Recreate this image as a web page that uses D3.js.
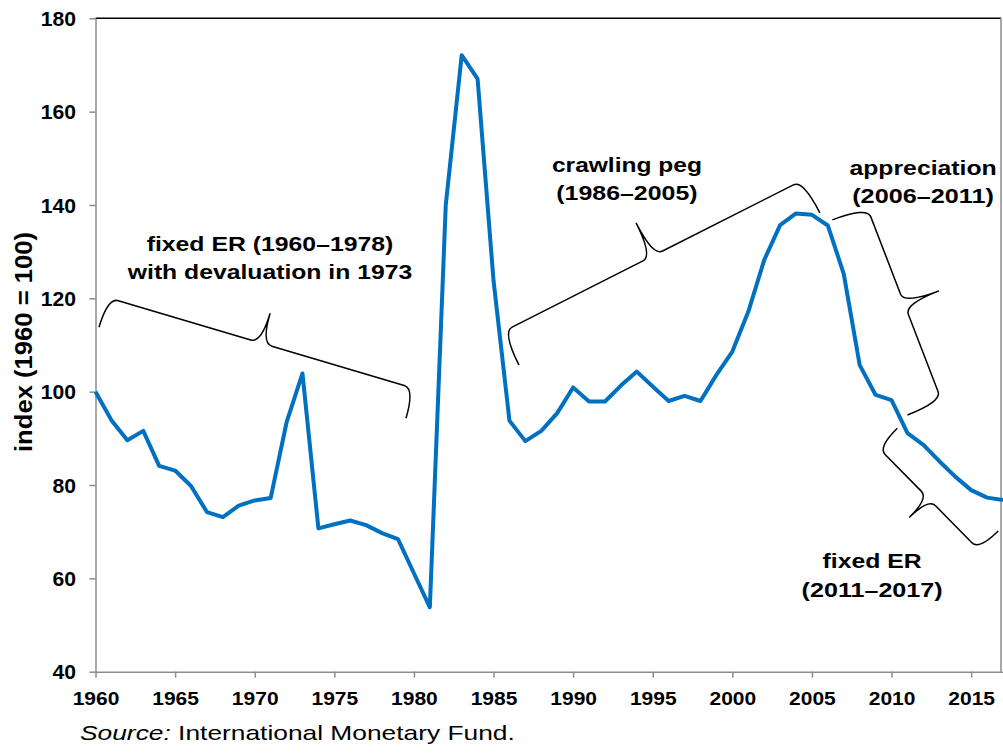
<!DOCTYPE html>
<html>
<head>
<meta charset="utf-8">
<script src="https://cdn.jsdelivr.net/npm/d3@7"></script>
<style>
  html, body { margin: 0; padding: 0; background: #fff; }
  svg { display: block; }
  text { font-family: "Liberation Sans", Arial, Helvetica, sans-serif; fill: #000; }
</style>
</head>
<body>
<svg id="chart" width="1003" height="754"></svg>
<script>
// ---------- data ----------
const years = [1960,1961,1962,1963,1964,1965,1966,1967,1968,1969,
               1970,1971,1972,1973,1974,1975,1976,1977,1978,1979,
               1980,1981,1982,1983,1984,1985,1986,1987,1988,1989,
               1990,1991,1992,1993,1994,1995,1996,1997,1998,1999,
               2000,2001,2002,2003,2004,2005,2006,2007,2008,2009,
               2010,2011,2012,2013,2014,2015,2016,2017];
const indexValues = [100.0,93.9,89.6,91.6,84.1,83.1,79.8,74.2,73.1,75.6,
                     76.7,77.2,93.4,103.9,70.7,71.6,72.4,71.4,69.7,68.4,
                     61.1,53.8,140.0,172.1,167.0,123.8,93.8,89.4,91.6,95.4,
                     100.9,97.9,97.9,101.3,104.3,101.1,98.0,99.1,98.0,103.6,
                     108.6,117.1,128.2,135.7,138.2,137.9,135.6,125.2,105.7,99.3,
                     98.2,91.1,88.6,85.1,81.8,78.9,77.3,76.8];
const xTicks = [1960,1965,1970,1975,1980,1985,1990,1995,2000,2005,2010,2015];
const yTicks = [40,60,80,100,120,140,160,180];
const yTitle = "index (1960 = 100)";
// annotation braces: ends in (year, index) space
const braceFrom = [[1960.22,113.8],[1986.6,105.7],[2006.28,136.8],[2010.36,92.15]];
const braceTo   = [[1979.5,94.3],[2005.5,138.3],[2011.0,95.0],[2016.7,70.15]];
const braceDepth = [31,37,37,27];
const braceSide = [1,1,1,-1];
// annotation labels: centre year, first-baseline index value
const labelLines = [["fixed ER (1960\u20131978)","with devaluation in 1973"],
                    ["crawling peg","(1986\u20132005)"],
                    ["appreciation","(2006\u20132011)"],
                    ["fixed ER","(2011\u20132017)"]];
const labelAt = [[1970.96,130.1],[1993.38,147.14],[2011.98,146.43],[2008.78,62.15]];
const labelWidths = [[246.7,284.4],[150,141.3],[147.3,141.7],[99,141]];

// ---------- chart ----------
const svg = d3.select("#chart");
const x = d3.scaleLinear().domain([1960,2017]).range([95.5,1003]);
const y = d3.scaleLinear().domain([40,180]).range([671.7,18.3]);
const axisGrey = "#8c8c8c";

// frame (top and right)
svg.append("line").attr("x1",x(1960)).attr("x2",1001).attr("y1",y(180)).attr("y2",y(180))
  .attr("stroke","#000").attr("stroke-width",1.5);
svg.append("line").attr("x1",1001).attr("x2",1001).attr("y1",y(180)).attr("y2",y(40))
  .attr("stroke",axisGrey).attr("stroke-width",1.5);

// y axis
const gy = svg.append("g").attr("transform",`translate(${x(1960)},0)`)
  .call(d3.axisLeft(y).tickValues(yTicks).tickSize(6).tickSizeOuter(0).tickPadding(13.5));
gy.select(".domain").attr("stroke",axisGrey).attr("stroke-width",1.5);
gy.selectAll(".tick line").attr("stroke",axisGrey).attr("stroke-width",1.5);
gy.selectAll(".tick text")
  .style("font-family",'"Liberation Sans", Arial, sans-serif')
  .style("font-size","20px").style("font-weight","bold").attr("fill","#000")
  .attr("dy","0.36em")
  .attr("textLength",d => String(d).length*11.75).attr("lengthAdjust","spacingAndGlyphs");

// x axis
const gx = svg.append("g").attr("transform",`translate(0,${y(40)})`)
  .call(d3.axisBottom(x).tickValues(xTicks).tickFormat(d3.format("d")).tickSize(6).tickSizeOuter(0));
gx.select(".domain").attr("stroke",axisGrey).attr("stroke-width",1.5);
gx.selectAll(".tick line").attr("stroke",axisGrey).attr("stroke-width",1.5);
gx.selectAll(".tick text")
  .style("font-family",'"Liberation Sans", Arial, sans-serif')
  .style("font-size","19px").style("font-weight","bold").attr("fill","#000")
  .attr("y",33.3).attr("dy",0)
  .attr("textLength",46.7).attr("lengthAdjust","spacingAndGlyphs");

// y title
svg.append("text")
  .attr("transform",`translate(31.5,${(232+452)/2}) rotate(-90)`)
  .attr("text-anchor","middle")
  .style("font-size","24px").style("font-weight","bold")
  .attr("textLength",220).attr("lengthAdjust","spacingAndGlyphs")
  .text(yTitle);

// braces
function bracePath(p1, p2, h, side) {
  const dx = p2[0]-p1[0], dy = p2[1]-p1[1], L = Math.hypot(dx,dy);
  const ux = dx/L, uy = dy/L;
  const nx = uy*side, ny = -ux*side;
  const P = (s,t) => [p1[0]+ux*s+nx*t, p1[1]+uy*s+ny*t];
  const m = L/2, c = Math.min(11, L*0.07);
  const p = d3.path();
  p.moveTo(...P(0,0));
  p.quadraticCurveTo(...P(0,h), ...P(c,h));
  p.lineTo(...P(m-c,h));
  p.quadraticCurveTo(...P(m,h), ...P(m,2*h));
  p.quadraticCurveTo(...P(m,h), ...P(m+c,h));
  p.lineTo(...P(L-c,h));
  p.quadraticCurveTo(...P(L,h), ...P(L,0));
  return p.toString();
}
svg.append("g").selectAll("path").data(braceFrom).join("path")
  .attr("d",(d,i) => bracePath([x(d[0]),y(d[1])],[x(braceTo[i][0]),y(braceTo[i][1])],braceDepth[i],braceSide[i]))
  .attr("fill","none").attr("stroke","#000").attr("stroke-width",1.5);

// data line
const line = d3.line().x((d,i) => x(years[i])).y(d => y(d));
svg.append("path").datum(indexValues)
  .attr("d",line).attr("fill","none")
  .attr("stroke","#0070C0").attr("stroke-width",4)
  .attr("stroke-linejoin","round");

// labels
labelLines.forEach((lines,i) => {
  lines.forEach((s,j) => {
    svg.append("text").attr("text-anchor","middle")
      .style("font-size","21px").style("font-weight","bold")
      .attr("x",x(labelAt[i][0])).attr("y",y(labelAt[i][1]) + j*28.3)
      .attr("textLength",labelWidths[i][j]).attr("lengthAdjust","spacingAndGlyphs")
      .text(s);
  });
});

// source
const src = svg.append("text")
  .attr("transform","translate(80,740) scale(1.255,1)")
  .style("font-size","21px");
src.append("tspan").style("font-style","italic").text("Source:");
src.append("tspan").text(" International Monetary Fund.");
</script>
</body>
</html>
